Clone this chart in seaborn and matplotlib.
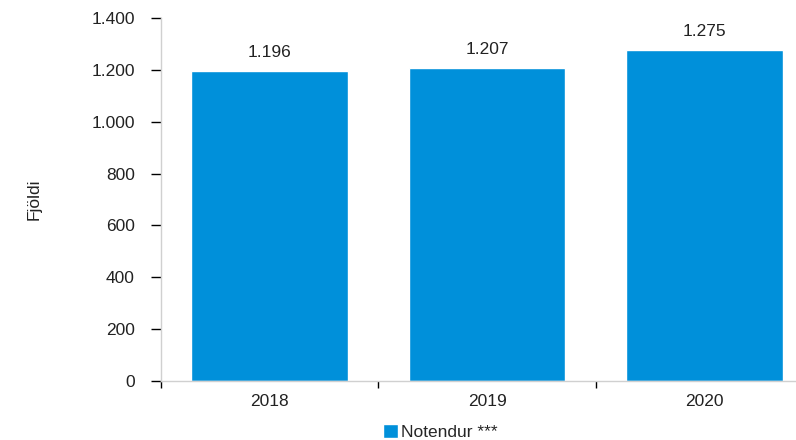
import matplotlib
matplotlib.use("Agg")
import matplotlib.pyplot as plt
import seaborn as sns
import pandas as pd
from matplotlib.ticker import FuncFormatter, FixedLocator

years = ["2018", "2019", "2020"]
values = [1196, 1207, 1275]
series_name = "Notendur ***"
yticks = [0, 200, 400, 600, 800, 1000, 1200, 1400]

sns.set_theme(style="white")
plt.rcParams['font.family'] = ['Liberation Sans', 'DejaVu Sans']

def fmt(v):
    return f"{int(v):,}".replace(",", ".")

df = pd.DataFrame({"Ár": years, "Fjöldi": values, "series": series_name})

fig = plt.figure(figsize=(7.96, 4.40), dpi=100)
ax = fig.add_axes([0.2023, 0.134, 0.7977, 0.825])
color = "#0090DA"
sns.barplot(data=df, x="Ár", y="Fjöldi", hue="series", palette=[color],
            width=0.72, ax=ax, saturation=1, legend=True)

for c in ax.containers:
    ax.bar_label(c, labels=[fmt(v) for v in values], padding=8, fontsize=12.5, color="#222222")

ax.set_xlim(-0.5, 2.42)
ax.set_ylim(0, 1400)
ax.set_yticks(yticks)
ax.yaxis.set_major_formatter(FuncFormatter(lambda v, p: fmt(v)))
ax.xaxis.set_minor_locator(FixedLocator([-0.5, 0.5, 1.5]))
ax.tick_params(axis="x", which="major", length=0, labelsize=12.5, pad=9, colors="#222222")
ax.tick_params(axis="x", which="minor", length=5, width=1, color="black", bottom=True)
ax.tick_params(axis="y", which="major", length=7, width=1, color="black", left=True,
               labelsize=12.5, pad=12, labelcolor="#222222")

for s in ["top", "right"]:
    ax.spines[s].set_visible(False)
for s in ["left", "bottom"]:
    ax.spines[s].set_color("#d0d0d0")
    ax.spines[s].set_linewidth(1)

ax.set_xlabel("")
ax.set_ylabel("Fjöldi", fontsize=12.5, labelpad=36, color="#222222")

leg = ax.legend(loc="upper center", bbox_to_anchor=(0.44, -0.118), frameon=False,
                fontsize=12.5, handlelength=0.85, handleheight=0.85, handletextpad=0.15,
                borderaxespad=0, borderpad=0)

fig.savefig("out.png", dpi=100)
